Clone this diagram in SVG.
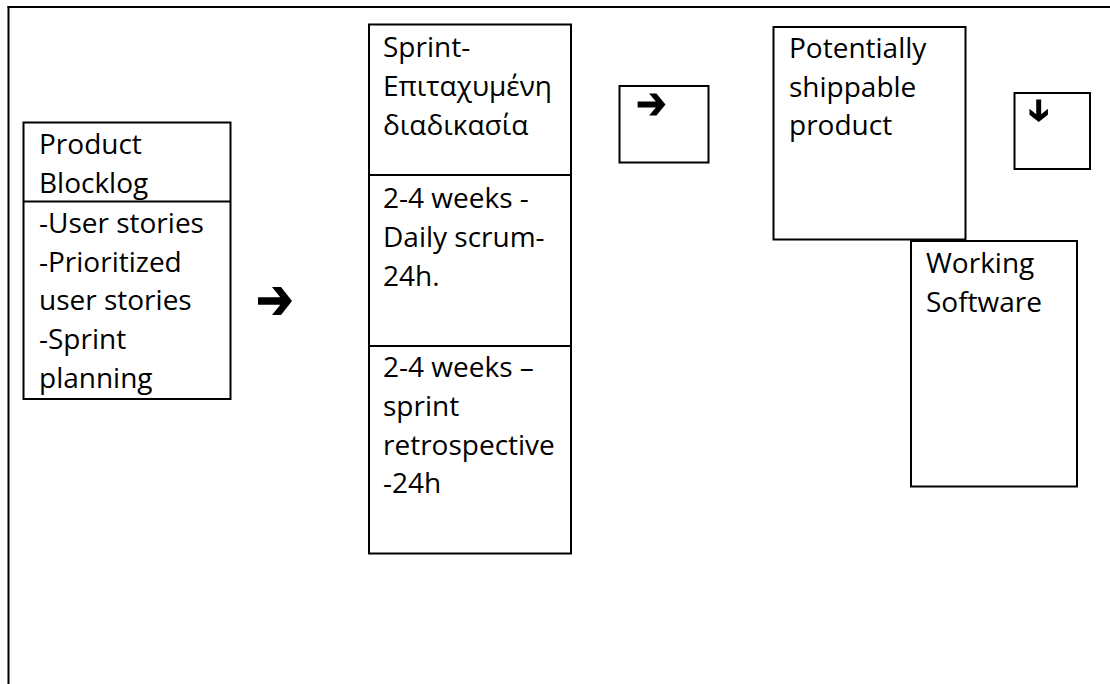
<svg xmlns="http://www.w3.org/2000/svg" xmlns:xlink="http://www.w3.org/1999/xlink" width="1110" height="684" viewBox="0 0 1110 684">
<style>
.box{fill:#ffffff;stroke:#000000;stroke-width:2}
.ln{fill:none;stroke:#000000;stroke-width:2}
.t{font-family:"Open Sans","Noto Sans","DejaVu Sans",sans-serif;font-size:28px;fill:#000000}
.arr{fill:#000000}
</style>
<defs>
<path id="arrowR" d="M-34,-3.75 L-11.75,-3.75 L-20,-14 L-11,-14 L0,0 L-11,14 L-20,14 L-11.75,3.75 L-34,3.75 Z"/>
</defs>
<rect x="0" y="0" width="1110" height="684" fill="#ffffff"/>
<g id="frame">
<line class="ln" x1="7.5" y1="7" x2="1110" y2="7"/>
<line class="ln" x1="8.5" y1="6" x2="8.5" y2="684"/>
</g>
<g id="product-backlog">
<rect class="box" x="23.5" y="122.5" width="207" height="276.5"/>
<line class="ln" x1="23.5" y1="201.5" x2="230.5" y2="201.5"/>
<text class="t" x="39" y="154">Product</text>
<text class="t" x="39" y="193">Blocklog</text>
<text class="t" x="39" y="233">-User stories</text>
<text class="t" x="39" y="272">-Prioritized</text>
<text class="t" x="39" y="310">user stories</text>
<text class="t" x="39" y="349">-Sprint</text>
<text class="t" x="39" y="388">planning</text>
</g>
<g id="sprint">
<rect class="box" x="369" y="24.5" width="202" height="529"/>
<line class="ln" x1="369" y1="175" x2="571" y2="175"/>
<line class="ln" x1="369" y1="346" x2="571" y2="346"/>
<text class="t" x="383" y="57">Sprint-</text>
<text class="t" x="383" y="96">Επιταχυμένη</text>
<text class="t" x="383" y="135">διαδικασία</text>
<text class="t" x="383" y="208">2-4 weeks -</text>
<text class="t" x="383" y="247">Daily scrum-</text>
<text class="t" x="383" y="286">24h.</text>
<text class="t" x="383" y="377">2-4 weeks –</text>
<text class="t" x="383" y="416">sprint</text>
<text class="t" x="383" y="455">retrospective</text>
<text class="t" x="383" y="493">-24h</text>
</g>
<g id="arrow-box-1">
<rect class="box" x="619.5" y="86" width="89" height="76.5"/>
</g>
<g id="potentially-shippable">
<rect class="box" x="773.5" y="27" width="192" height="212.5"/>
<text class="t" x="789" y="58">Potentially</text>
<text class="t" x="789" y="97">shippable</text>
<text class="t" x="789" y="135">product</text>
</g>
<g id="arrow-box-2">
<rect class="box" x="1014.5" y="93" width="75.5" height="76"/>
</g>
<g id="working-software">
<rect class="box" x="911" y="241" width="166" height="245.5"/>
<text class="t" x="926" y="273">Working</text>
<text class="t" x="926" y="312">Software</text>
</g>
<g id="connectors">
<use xlink:href="#arrowR" class="arr" transform="translate(292,301)"/>
<use xlink:href="#arrowR" class="arr" transform="translate(665.5,104.5) scale(0.82,0.78)"/>
<use xlink:href="#arrowR" class="arr" transform="translate(1038.7,122) rotate(90) scale(0.66,0.66)"/>
</g>
</svg>
